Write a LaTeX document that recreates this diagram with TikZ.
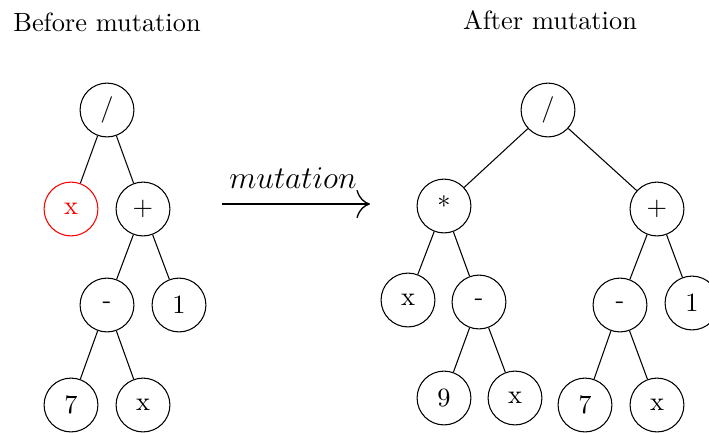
\documentclass[tikz,border=0pt]{standalone}
\usetikzlibrary{arrows.meta}
\begin{document}
\begin{tikzpicture}[x=0.379pt,y=-0.379pt,
  tn/.style={draw,circle,minimum size=20.4pt,inner sep=0pt,font=\normalsize},
  hot/.style={tn,draw=red,text=red}]
\useasboundingbox (0,0) rectangle (709,432);

\node (t1) at (107,22) {Before mutation};
\node (t2) at (550,20) {After mutation};

% tree before mutation
\node[tn]  (a1) at (107,110) {/};
\node[hot] (a2) at (71,209)  {x};
\node[tn]  (a3) at (143,209) {$+$};
\node[tn]  (a4) at (107,305) {-};
\node[tn]  (a5) at (179,305) {1};
\node[tn]  (a6) at (71,405)  {7};
\node[tn]  (a7) at (143,405) {x};
\draw (a1) -- (a2) (a1) -- (a3) (a3) -- (a4) (a3) -- (a5) (a4) -- (a6) (a4) -- (a7);

% mutation arrow
\coordinate (m1) at (222,204);
\coordinate (m2) at (370,204);
\draw[line width=0.5pt,-{To[scale=1.9]}] (m1) -- (m2);
\node[font=\large,anchor=base,inner sep=0pt] (ml) at (293,188) {$mutation$};

% tree after mutation
\node[tn] (b1)  at (548,110) {/};
\node[tn] (b2)  at (444,206) {*};
\node[tn] (b3)  at (657,209) {$+$};
\node[tn] (b4)  at (408,300) {x};
\node[tn] (b5)  at (479,302) {-};
\node[tn] (b6)  at (444,398) {9};
\node[tn] (b7)  at (515,398) {x};
\node[tn] (b8)  at (620,305) {-};
\node[tn] (b9)  at (692,303) {1};
\node[tn] (b10) at (585,405) {7};
\node[tn] (b11) at (657,405) {x};
\draw (b1) -- (b2) (b1) -- (b3) (b2) -- (b4) (b2) -- (b5) (b5) -- (b6) (b5) -- (b7)
      (b3) -- (b8) (b3) -- (b9) (b8) -- (b10) (b8) -- (b11);
\end{tikzpicture}
\end{document}
